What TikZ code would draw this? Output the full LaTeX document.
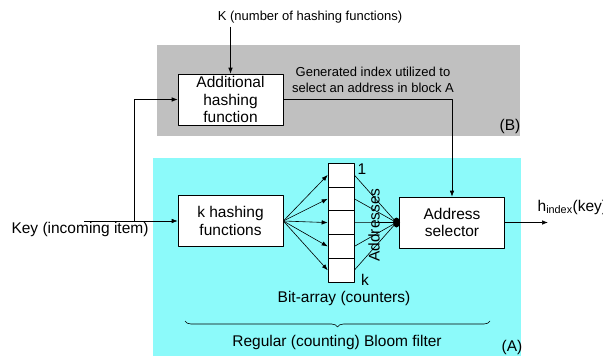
\documentclass[tikz,border=0pt]{standalone}
\usepackage{fontspec}
\setmainfont{Liberation Sans}
\usetikzlibrary{arrows.meta,decorations.pathreplacing}
\definecolor{blockA}{RGB}{140,250,250}
\definecolor{blockB}{RGB}{192,192,192}

\begin{document}
\begin{tikzpicture}[x=1pt,y=-1pt,line join=round,>={Latex[length=6pt,width=4.5pt]},semithick]
	\tikzset{box/.style={draw,fill=white,minimum width=105pt,minimum height=51pt,align=center,inner sep=0pt,font=\fontsize{15.5}{17.5}\selectfont},
		txt/.style={font=\fontsize{15.5}{17.5}\selectfont},
		small/.style={font=\fontsize{13}{16.5}\selectfont},
		cell/.style={draw,fill=white,minimum width=26pt,minimum height=23.8pt,inner sep=0pt}}
	\useasboundingbox (0,0) rectangle (603,356);
	% the two blocks
	\fill[blockB] (157,45) rectangle (520,136);
	\fill[blockA] (153,158) rectangle (521,356);
	\node[txt] (blkB) at (510,126) {(B)};
	\node[txt] (blkA) at (512,347) {(A)};
	% boxes
	\node[box] (addhash) at (230.5,99.5) {Additional\\hashing\\function};
	\node[box] (khash) at (230.5,221) {k hashing\\functions};
	\node[box] (selector) at (452,222.5) {Address\\selector};
	\foreach \i in {0,...,4}
		\node[cell] (c\i) at (341,175+23.8*\i) {};
	% texts
	\node[small] (knum) at (310,17) {K (number of hashing functions)};
	\node[small,align=center] (genidx) at (373,80) {Generated index utilized to\\select an address in block A};
	\node[txt] (key) at (80,229) {Key (incoming item)};
	\node[txt] (first) at (362,169) {1};
	\node[txt] (last) at (365,280) {k};
	\node[txt,rotate=90] (addr) at (374,225) {Addresses};
	\node[txt] (bitlbl) at (344,298) {Bit-array (counters)};
	\node[txt] (bloom) at (337,342) {Regular (counting) Bloom filter};
	\node[txt,anchor=west] (hout) at (534,207) {h\textsubscript{index}(key)};
	% connectors
	\coordinate (keyin) at (84,221);
	\coordinate (split) at (134,221);
	\coordinate (dot) at (396.5,222.5);
	\coordinate (out) at (548,222.5);
	\draw[->] (keyin) -- (khash.west);
	\draw[->] (split) |- (addhash.west);
	\draw[->] (addhash |- knum.south) -- (addhash.north);
	\draw[->] (addhash.east) -| (selector.north);
	\foreach \i in {0,...,4}{
		\draw[->] (khash.east) -- (c\i.west);
		\draw (c\i.east) -- (dot);
	}
	\fill (dot) ellipse (3.5 and 5);
	\draw[->] (selector.east) -- (out);
	\draw[decorate,decoration={brace,mirror,amplitude=6pt}] (185,321) -- (490,321);
\end{tikzpicture}
\end{document}
